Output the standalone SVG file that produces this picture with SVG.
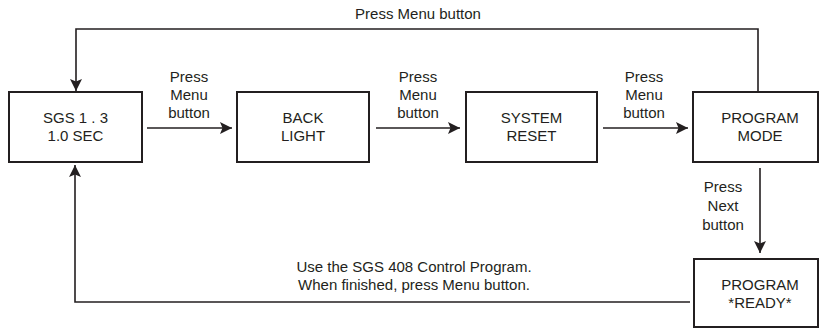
<svg xmlns="http://www.w3.org/2000/svg" width="820" height="330" viewBox="0 0 820 330">
<style>
.box{fill:#fff;stroke:#231f20;stroke-width:2}
.ln{fill:none;stroke:#231f20;stroke-width:1.6}
text{font-family:"Liberation Sans",Arial,sans-serif;font-size:15px;fill:#231f20;text-anchor:middle}
</style>
<defs>
<marker id="ah" viewBox="0 0 12 12" refX="12" refY="6" markerWidth="12" markerHeight="12" markerUnits="userSpaceOnUse" orient="auto">
<path d="M0,0 L12,6 L0,12 L2.5,6 z" fill="#231f20"/>
</marker>
</defs>
<rect width="820" height="330" fill="#fff"/>
<g id="connectors">
<polyline class="ln" points="758,92 758,29 76,29 76,91" marker-end="url(#ah)"/>
<line class="ln" x1="147" y1="128" x2="232" y2="128" marker-end="url(#ah)"/>
<line class="ln" x1="376" y1="128" x2="460" y2="128" marker-end="url(#ah)"/>
<line class="ln" x1="603" y1="128" x2="688" y2="128" marker-end="url(#ah)"/>
<line class="ln" x1="760" y1="168" x2="760" y2="253" marker-end="url(#ah)"/>
<polyline class="ln" points="690,302 75,302 75,165" marker-end="url(#ah)"/>
<text x="418" y="19">Press Menu button</text>
<text x="189" y="82">Press</text><text x="189" y="100">Menu</text><text x="189" y="118">button</text>
<text x="418" y="82">Press</text><text x="418" y="100">Menu</text><text x="418" y="118">button</text>
<text x="644" y="82">Press</text><text x="644" y="100">Menu</text><text x="644" y="118">button</text>
<text x="723" y="192">Press</text><text x="723" y="211">Next</text><text x="723" y="230">button</text>
<text x="414" y="272">Use the SGS 408 Control Program.</text>
<text x="414" y="290">When finished, press Menu button.</text>
</g>
<g id="sgs">
<rect class="box" x="9" y="92" width="133" height="70"/>
<text x="75.5" y="122.5">SGS 1 . 3</text><text x="75.5" y="140.5">1.0 SEC</text>
</g>
<g id="backlight">
<rect class="box" x="237" y="92" width="132" height="70"/>
<text x="303" y="122.5">BACK</text><text x="303" y="140.5">LIGHT</text>
</g>
<g id="systemreset">
<rect class="box" x="466" y="92" width="131" height="70"/>
<text x="531.5" y="122.5">SYSTEM</text><text x="531.5" y="140.5">RESET</text>
</g>
<g id="programmode">
<rect class="box" x="693" y="92" width="125" height="70"/>
<text x="760" y="122.5">PROGRAM</text><text x="760" y="140.5">MODE</text>
</g>
<g id="programready">
<rect class="box" x="694" y="259" width="124" height="68"/>
<text x="760" y="290">PROGRAM</text><text x="760" y="308">*READY*</text>
</g>
</svg>
